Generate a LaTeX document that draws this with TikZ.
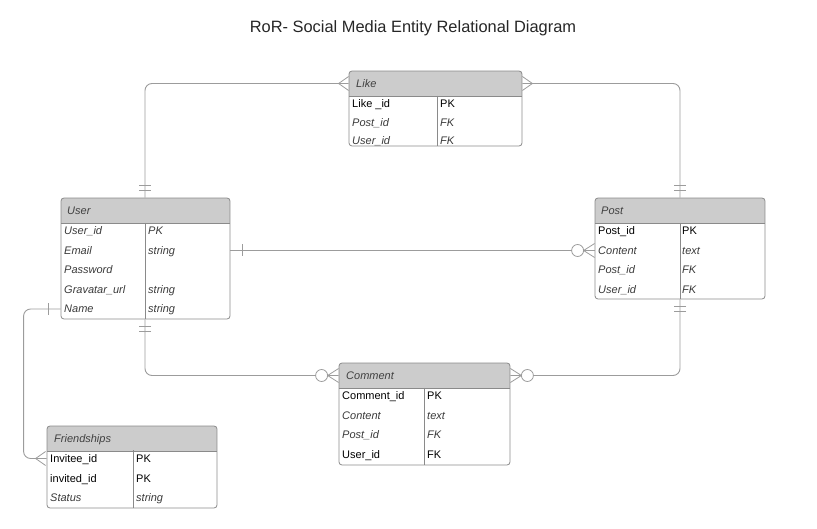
\documentclass[tikz,border=0pt]{standalone}
\usepackage{fontspec}
\setmainfont{Liberation Sans}
\usetikzlibrary{calc}
\definecolor{headfill}{HTML}{CCCCCC}
\definecolor{boxline}{HTML}{8A8A8A}
\definecolor{linkline}{HTML}{9C9C9C}
\definecolor{titleink}{HTML}{404040}
\definecolor{attrink}{HTML}{3A3A3A}

\begin{document}
\begin{tikzpicture}[
  x=1pt,y=-1pt,font=\fontsize{11}{13}\selectfont,
  entity/.style={draw=boxline,line width=.8pt,rounded corners=3pt,
    path picture={
      \fill[headfill,sharp corners] (path picture bounding box.north west)
        rectangle ([yshift=-25pt]path picture bounding box.north east);
      \draw[boxline,line width=.8pt,sharp corners]
        ([yshift=-25pt]path picture bounding box.north west)
        -- ([yshift=-25pt]path picture bounding box.north east);}},
  heading/.style={anchor=west,inner sep=0pt,text height=8pt,text depth=0pt,
    font=\fontsize{11}{13}\selectfont\itshape,text=titleink},
  keyfield/.style={anchor=west,inner sep=0pt,text height=8pt,text depth=0pt},
  field/.style={keyfield,font=\fontsize{11}{13}\selectfont\itshape,text=attrink},
  split/.style={draw=boxline,line width=.8pt},
  relation/.style={draw=linkline,line width=.9pt,rounded corners=7pt},
  tipline/.style={draw=linkline,line width=.8pt},
  crow/.pic={\draw[tipline] (0,0) -- (10,-7) (0,0) -- (10,7);},
  zerocrow/.pic={\draw[tipline] (0,0) -- (11,-7) (0,0) -- (11,7);
    \draw[tipline,fill=white] (-6,0) circle[radius=6pt];},
  onebar/.pic={\draw[tipline] (12,-6) -- (12,6);},
  twobar/.pic={\draw[tipline] (7,-6) -- (7,6) (12,-6) -- (12,6);}
]
\path[use as bounding box] (0,0) rectangle (817,529);

\node[font=\fontsize{16.4}{19}\selectfont,text=black!85] (diagram-title) at (413,28)
  {RoR- Social Media Entity Relational Diagram};

% Like
\node[entity,minimum width=173,minimum height=75] (like) at (435.5,108.5) {};
\node[heading] (like-title) at (356,83.5) {Like};
\node[keyfield] (like-id) at (352,103.5) {Like \_id};
\node[field] (like-post) at (352,122.5) {Post\_id};
\node[field] (like-user) at (352,140.5) {User\_id};
\node[keyfield] (like-id-type) at (440,103.5) {PK};
\node[field] (like-post-type) at (440,122.5) {FK};
\node[field] (like-user-type) at (440,140.5) {FK};
\coordinate (like-split) at (437,96);
\draw[split] (like-split) -- (like.south -| like-split);

% User
\node[entity,minimum width=169,minimum height=121] (user) at (145.5,258.5) {};
\node[heading] (user-title) at (67,210.5) {User};
\node[field] (user-id) at (64,231) {User\_id};
\node[field] (user-email) at (64,250.5) {Email};
\node[field] (user-password) at (64,270) {Password};
\node[field] (user-gravatar) at (64,289.5) {Gravatar\_url};
\node[field] (user-name) at (64,309) {Name};
\node[field] (user-id-type) at (148,231) {PK};
\node[field] (user-email-type) at (148,250.5) {string};
\node[field] (user-gravatar-type) at (148,289.5) {string};
\node[field] (user-name-type) at (148,309) {string};
\coordinate (user-split) at (145,223);
\draw[split] (user-split) -- (user.south -| user-split);

% Post
\node[entity,minimum width=170,minimum height=101] (post) at (680,248.5) {};
\node[heading] (post-title) at (601,210.5) {Post};
\node[keyfield] (post-id) at (598,231) {Post\_id};
\node[field] (post-content) at (598,250.5) {Content};
\node[field] (post-post) at (598,270) {Post\_id};
\node[field] (post-user) at (598,289.5) {User\_id};
\node[keyfield] (post-id-type) at (682,231) {PK};
\node[field] (post-content-type) at (682,250.5) {text};
\node[field] (post-post-type) at (682,270) {FK};
\node[field] (post-user-type) at (682,289.5) {FK};
\coordinate (post-split) at (680,223);
\draw[split] (post-split) -- (post.south -| post-split);

% Comment
\node[entity,minimum width=171,minimum height=102] (comment) at (424.5,414) {};
\node[heading] (comment-title) at (346,375.5) {Comment};
\node[keyfield] (comment-id) at (342,395.5) {Comment\_id};
\node[field] (comment-content) at (342,415) {Content};
\node[field] (comment-post) at (342,434.5) {Post\_id};
\node[keyfield] (comment-user) at (342,454) {User\_id};
\node[keyfield] (comment-id-type) at (427,395.5) {PK};
\node[field] (comment-content-type) at (427,415) {text};
\node[field] (comment-post-type) at (427,434.5) {FK};
\node[keyfield] (comment-user-type) at (427,454) {FK};
\coordinate (comment-split) at (424,388);
\draw[split] (comment-split) -- (comment.south -| comment-split);

% Friendships
\node[entity,minimum width=170,minimum height=82] (friends) at (132,467) {};
\node[heading] (friends-title) at (54,438) {Friendships};
\node[keyfield] (friends-invitee) at (50,458.5) {Invitee\_id};
\node[keyfield] (friends-invited) at (50,478) {invited\_id};
\node[field] (friends-status) at (50,497.5) {Status};
\node[keyfield] (friends-invitee-type) at (136,458.5) {PK};
\node[keyfield] (friends-invited-type) at (136,478) {PK};
\node[field] (friends-status-type) at (136,497.5) {string};
\coordinate (friends-split) at (133,450);
\draw[split] (friends-split) -- (friends.south -| friends-split);

% Relations
\draw[relation] (user.north -| user-split) |- (like.west |- like-title);
\draw[relation] (like.east |- like-title) -| (post.north -| post-split);
\draw[relation] (user.east |- user-email) -- (post.west |- post-content);
\draw[relation] (user.south -| user-split) |- (comment.west |- comment-title);
\draw[relation] (post.south -| post-split) |- (comment.east |- comment-title);
\draw[relation] (user.west |- user-name) -- ++(-37,0) |- (friends.west |- friends-invitee);

% Cardinality ends
\pic at ($(like.west |- like-title)+(-10,0)$) {crow};
\pic[rotate=180] at ($(like.east |- like-title)+(10,0)$) {crow};
\pic[rotate=90] at (user.north -| user-split) {twobar};
\pic[rotate=90] at (post.north -| post-split) {twobar};
\pic at (user.east |- user-email) {onebar};
\pic at ($(post.west |- post-content)+(-11,0)$) {zerocrow};
\pic[rotate=-90] at (user.south -| user-split) {twobar};
\pic[rotate=-90] at (post.south -| post-split) {twobar};
\pic at ($(comment.west |- comment-title)+(-11,0)$) {zerocrow};
\pic[rotate=180] at ($(comment.east |- comment-title)+(11,0)$) {zerocrow};
\pic[rotate=180] at (user.west |- user-name) {onebar};
\pic at ($(friends.west |- friends-invitee)+(-11,0)$) {crow};
\end{tikzpicture}
\end{document}
